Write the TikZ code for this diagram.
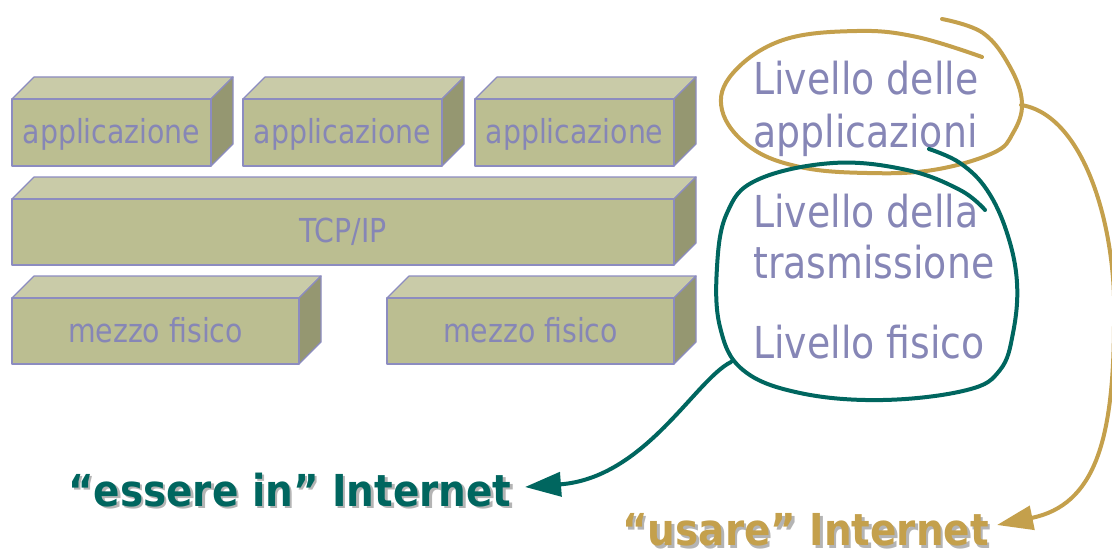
\documentclass[tikz,border=0pt]{standalone}
\usepackage{fontspec}
\setmainfont{DejaVu Sans}
\newfontfamily\slimfont[FakeStretch=0.86]{DejaVu Sans}
\newfontfamily\heavyfont[FakeStretch=0.885]{DejaVu Sans}
\usetikzlibrary{arrows.meta}

\definecolor{slabfront}{HTML}{BBBE91}
\definecolor{slabtop}{HTML}{C9CBA8}
\definecolor{slabside}{HTML}{959771}
\definecolor{slabedge}{HTML}{8C8CC0}
\definecolor{lavender}{HTML}{8686B6}
\definecolor{deepteal}{HTML}{00665F}
\definecolor{ochre}{HTML}{C4A04C}
\definecolor{shade}{HTML}{B4B4B4}

\tikzset{
  topface/.style={fill=slabtop, draw=slabedge, line width=0.9pt, line join=round},
  sideface/.style={fill=slabside, draw=slabedge, line width=0.9pt, line join=round},
  frontface/.style={fill=slabfront, draw=slabedge, line width=0.9pt, line join=round},
  slabtext/.style={text=lavender, inner sep=0pt, anchor=base,
    font=\slimfont\fontsize{24.75pt}{30pt}\selectfont},
  layertext/.style={text=lavender, inner sep=0pt, anchor=base west,
    font=\slimfont\fontsize{33pt}{40pt}\selectfont},
  heavytext/.style={inner sep=0pt, anchor=base west,
    font=\heavyfont\bfseries\fontsize{33pt}{40pt}\selectfont},
  tealpen/.style={draw=deepteal, line width=3pt, line cap=round},
  ochrepen/.style={draw=ochre, line width=3pt, line cap=round},
  bigtip/.style={-{Triangle[length=27pt,width=18pt]}},
}

% a 3D slab: name, left x, top y, right x, bottom y, text, text baseline
\newcommand{\slab}[7]{%
  \path[topface] (#2,#3) -- ({#2+22},{#3-22}) -- ({#4+22},{#3-22}) -- (#4,#3) -- cycle;
  \path[sideface] (#4,#3) -- ({#4+22},{#3-22}) -- ({#4+22},{#5-22}) -- (#4,#5) -- cycle;
  \path[frontface] (#2,#3) rectangle (#4,#5);
  \node[slabtext] (#1) at ({(#2+#4)/2},#7) {#6};
}

\begin{document}
\begin{tikzpicture}[x=0.75pt, y=-0.75pt]
\useasboundingbox (0,0) rectangle (1112,549);

% protocol stack slabs
\slab{appA}{12}{99}{211}{166}{applicazione}{143}
\slab{appB}{243}{99}{442}{166}{applicazione}{143}
\slab{appC}{475}{99}{674}{166}{applicazione}{143}
\slab{tcpip}{12}{199}{674}{265}{TCP/IP}{242}
\slab{medA}{12}{298}{299}{364}{mezzo fisico}{342}
\slab{medB}{387}{298}{674}{364}{mezzo fisico}{342}

% layer names
\node[layertext] (lvapp1) at (753,95) {Livello delle};
\node[layertext] (lvapp2) at (753,147) {applicazioni};
\node[layertext] (lvtr1) at (753,227) {Livello della};
\node[layertext] (lvtr2) at (753,278) {trasmissione};
\node[layertext] (lvfis) at (753,358) {Livello fisico};

% outcome labels with drop shadow
\node[heavytext, text=shade] (essereshadow) at (70.5,508.5) {“essere in” Internet};
\node[heavytext, text=deepteal] (essere) at (68,506) {“essere in” Internet};
\node[heavytext, text=shade] (usareshadow) at (624.5,548) {“usare” Internet};
\node[heavytext, text=ochre] (usare) at (622,545.5) {“usare” Internet};

% hand-drawn loop around the application layer
\draw[ochrepen] plot[smooth, tension=0.65] coordinates {
  (942,19) (983,33) (1010,67) (1022,103) (1013,133) (993,153) (933,170)
  (867,173) (800,167) (750,147) (722,110) (733,73) (783,40) (857,31)
  (917,37) (982,57)};
\coordinate (ochrejoin) at (1021,105);
\coordinate (usaretip) at (997,525);
\draw[ochrepen, bigtip] (ochrejoin) .. controls (1085,115) and (1117,230) ..
  (1114,320) .. controls (1114,440) and (1095,505) .. (usaretip);

% hand-drawn loop around transport and physical layers
\draw[tealpen] plot[smooth, tension=0.65] coordinates {
  (929,149) (960,163) (987,190) (1007,233) (1017,283) (1013,333)
  (1000,370) (967,390) (883,400) (800,393) (743,370) (720,327)
  (717,267) (727,213) (757,180) (833,163) (907,170) (960,190) (985,210)};
\coordinate (tealjoin) at (731,362);
\coordinate (esseretip) at (525,487);
\draw[tealpen, bigtip] (tealjoin) .. controls (695,380) and (645,478) .. (esseretip);
\end{tikzpicture}
\end{document}
